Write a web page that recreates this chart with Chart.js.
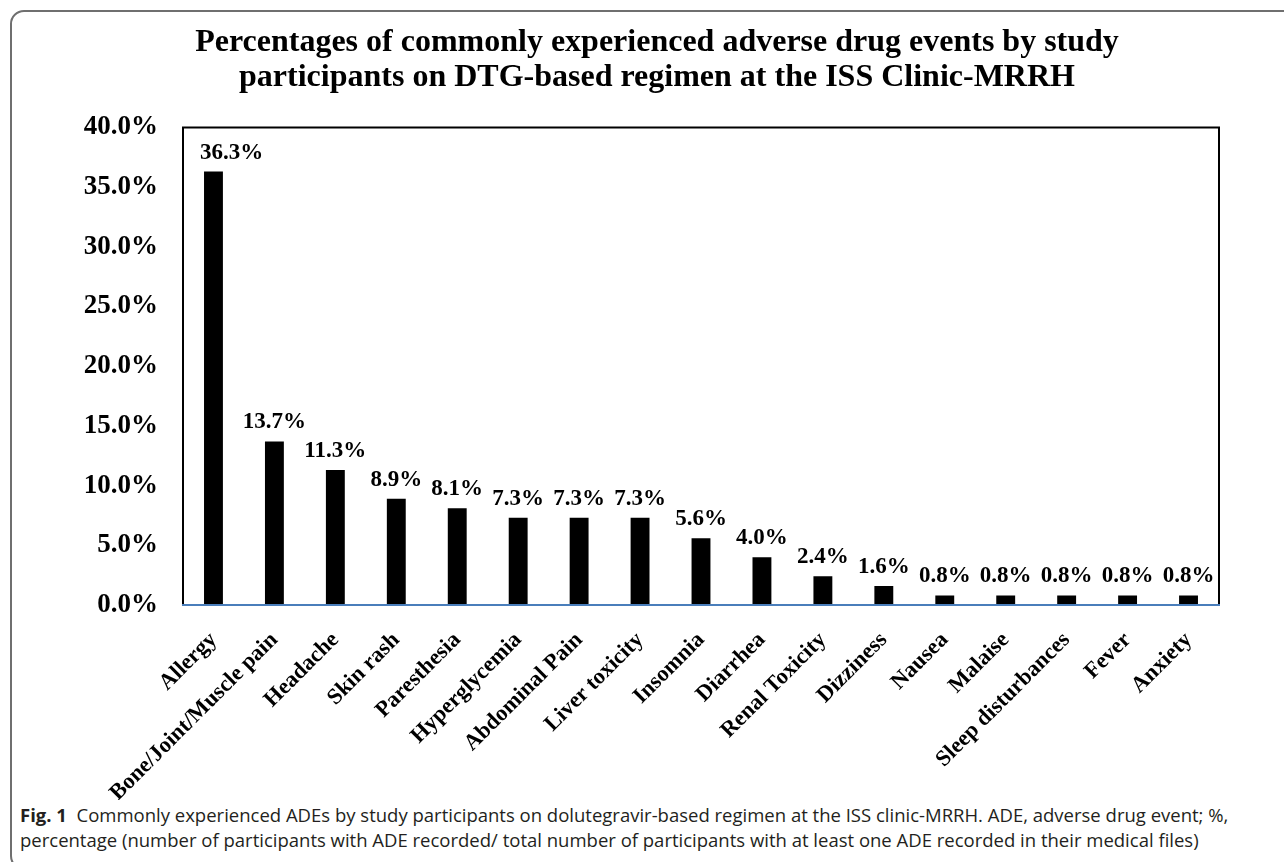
<!DOCTYPE html>
<html>
<head>
<meta charset="utf-8">
<script src="https://cdn.jsdelivr.net/npm/chart.js@4"></script>
<style>
  html, body { margin: 0; padding: 0; background: #fff; }
  body { width: 1284px; height: 862px; position: relative; overflow: hidden; }
  #frame {
    position: absolute; left: 10px; top: 10px; width: 1300px; height: 860px;
    border: 2px solid #6f6f6f; border-radius: 14px 0 0 14px; box-sizing: border-box;
  }
  #wrap { position: absolute; left: 0; top: 0; width: 1284px; height: 800px; }
  #caption {
    position: absolute; left: 20px; top: 802px; width: 1250px;
    font-family: "Open Sans", sans-serif; font-size: 18.5px; line-height: 25px; color: #231f20;
  }
</style>
</head>
<body>
<div id="frame"></div>
<div id="wrap"><canvas id="myChart"></canvas></div>
<div id="caption"><b>Fig. 1</b>&nbsp; Commonly experienced ADEs by study participants on dolutegravir-based regimen at the ISS clinic-MRRH. ADE, adverse drug event; %, percentage (number of participants with ADE recorded/ total number of participants with at least one ADE recorded in their medical files)</div>
<script>
// Kategorier og værdier
const categories = ['Allergy', 'Bone/Joint/Muscle pain', 'Headache', 'Skin rash', 'Paresthesia',
  'Hyperglycemia', 'Abdominal Pain', 'Liver toxicity', 'Insomnia', 'Diarrhea', 'Renal Toxicity',
  'Dizziness', 'Nausea', 'Malaise', 'Sleep disturbances', 'Fever', 'Anxiety'];
const percentages = [36.3, 13.7, 11.3, 8.9, 8.1, 7.3, 7.3, 7.3, 5.6, 4.0, 2.4, 1.6, 0.8, 0.8, 0.8, 0.8, 0.8];
const yTicks = [0, 5, 10, 15, 20, 25, 30, 35, 40];

const serif = '"Liberation Serif", "Times New Roman", serif';

// Titlen er centreret lidt til højre i originalen
const titleShift = {
  id: 'titleShift',
  afterLayout(chart) {
    const t = chart.titleBlock;
    if (t) { t.left = 95; t.width = t.right - t.left; }
  }
};

// Ramme om plotområdet (sort) + blå x-akse
const plotBorder = {
  id: 'plotBorder',
  afterDraw(chart) {
    const { ctx, chartArea: a } = chart;
    ctx.save();
    ctx.lineWidth = 2;
    ctx.strokeStyle = '#000';
    ctx.beginPath();
    ctx.moveTo(a.left, a.bottom);
    ctx.lineTo(a.left, a.top);
    ctx.lineTo(a.right, a.top);
    ctx.lineTo(a.right, a.bottom);
    ctx.stroke();
    ctx.strokeStyle = '#4a7ebb';
    ctx.beginPath();
    ctx.moveTo(a.left - 1, a.bottom);
    ctx.lineTo(a.right + 1, a.bottom);
    ctx.stroke();
    ctx.restore();
  }
};

// Værdier over søjlerne (holdes fri af venstre kant)
const barLabels = {
  id: 'barLabels',
  afterDatasetsDraw(chart) {
    const { ctx, chartArea } = chart;
    const meta = chart.getDatasetMeta(0);
    ctx.save();
    ctx.font = 'bold 23px ' + serif;
    ctx.fillStyle = '#000';
    ctx.textAlign = 'left';
    ctx.textBaseline = 'alphabetic';
    meta.data.forEach((bar, i) => {
      const txt = percentages[i].toFixed(1) + '%';
      const w = ctx.measureText(txt).width;
      const x = Math.max(bar.x - w / 2, chartArea.left + 17);
      ctx.fillText(txt, x, bar.y - 13);
    });
    ctx.restore();
  }
};

const ctx = document.getElementById('myChart').getContext('2d');
new Chart(ctx, {
  type: 'bar',
  data: {
    labels: categories,
    datasets: [{
      data: percentages,
      backgroundColor: '#000',
      borderWidth: 0,
      barPercentage: 0.31,
      categoryPercentage: 1
    }]
  },
  options: {
    responsive: true,
    maintainAspectRatio: false,
    animation: false,
    layout: { padding: { top: 25, right: 65, left: 0, bottom: 0 } },
    plugins: {
      legend: { display: false },
      tooltip: { enabled: false },
      title: {
        display: true,
        text: ['Percentages of commonly experienced adverse drug events by study',
               'participants on DTG-based regimen at the ISS Clinic-MRRH'],
        color: '#000',
        font: { family: serif, size: 32, weight: 'bold', lineHeight: 1.1 },
        padding: { top: 0, bottom: 32 }
      }
    },
    scales: {
      x: {
        grid: { display: false, drawTicks: false },
        border: { display: false },
        ticks: {
          color: '#000',
          font: { family: serif, size: 22.5, weight: 'bold' },
          minRotation: 45,
          maxRotation: 45,
          padding: 22,
          autoSkip: false
        },
        afterFit(scale) { scale.height = 195; }
      },
      y: {
        min: 0,
        max: 40,
        afterBuildTicks(scale) { scale.ticks = yTicks.map(v => ({ value: v })); },
        grid: { display: false, drawTicks: false },
        border: { display: false },
        ticks: {
          color: '#000',
          font: { family: serif, size: 27, weight: 'bold' },
          padding: 25,
          callback: v => v.toFixed(1) + '%'
        },
        afterFit(scale) { scale.width = 183; }
      }
    }
  },
  plugins: [titleShift, plotBorder, barLabels]
});
</script>
</body>
</html>
